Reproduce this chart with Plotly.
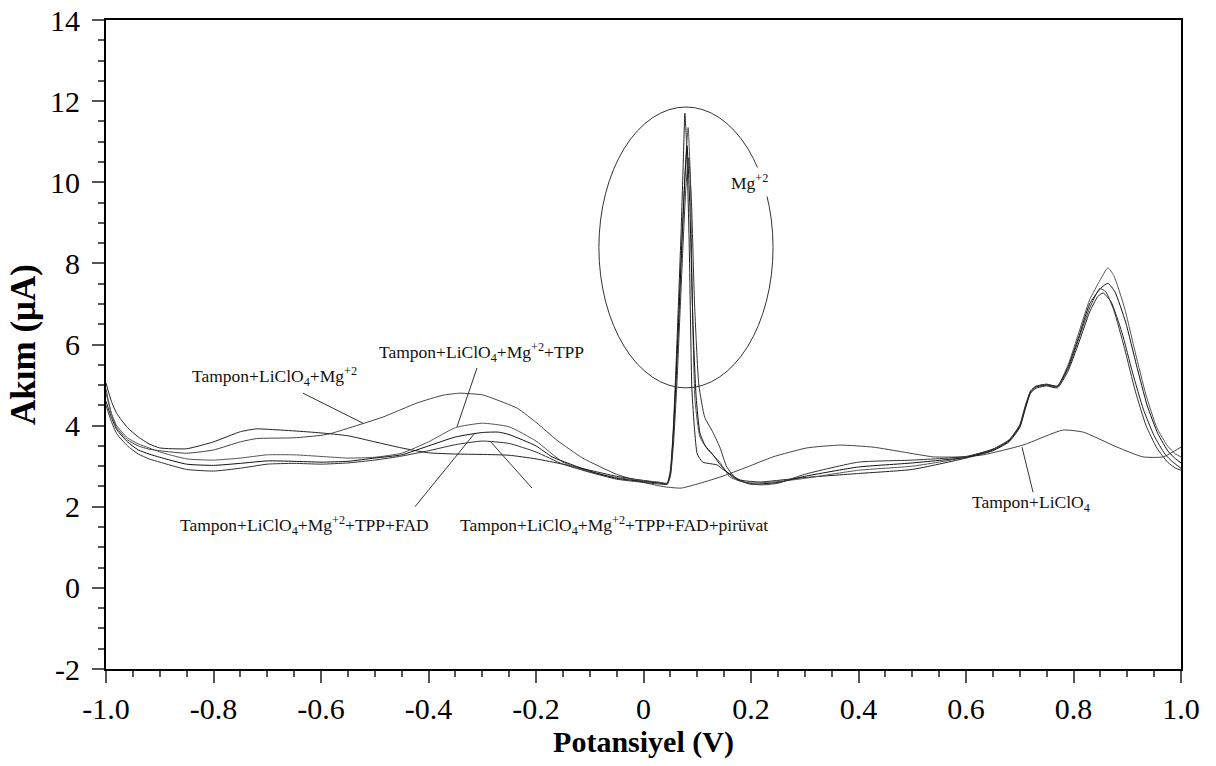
import plotly.graph_objects as go

# ---- Tampon+LiClO4 (no Mg peak) ----
base_x = [-1.0, -0.99, -0.98, -0.96, -0.94, -0.92, -0.9, -0.85, -0.8, -0.75, -0.72, -0.65, -0.6,
          -0.578, -0.546, -0.485, -0.421, -0.373, -0.341, -0.3, -0.286, -0.235, -0.198, -0.161,
          -0.113, -0.05, 0.0, 0.04, 0.07, 0.1, 0.142, 0.193, 0.241, 0.304, 0.366, 0.427, 0.483,
          0.539, 0.595, 0.632, 0.706, 0.78, 0.818, 0.881, 0.929, 0.967, 1.0]
base_y = [4.9, 4.3, 3.95, 3.65, 3.5, 3.42, 3.38, 3.32, 3.4, 3.6, 3.68, 3.7, 3.76,
          3.82, 3.95, 4.21, 4.56, 4.75, 4.8, 4.76, 4.7, 4.43, 4.06, 3.64,
          3.2, 2.8, 2.6, 2.49, 2.46, 2.56, 2.73, 2.98, 3.23, 3.45, 3.52, 3.47, 3.35,
          3.23, 3.23, 3.28, 3.52, 3.89, 3.84, 3.47, 3.23, 3.23, 3.47]

# ---- Tampon+LiClO4+Mg+2 ----
mg_x = [-1.0, -0.99, -0.98, -0.96, -0.94, -0.92, -0.9, -0.85, -0.8, -0.75, -0.72, -0.7, -0.65,
        -0.6, -0.55, -0.5, -0.45, -0.4, -0.35, -0.3, -0.25, -0.2, -0.15, -0.1, -0.05, 0.0, 0.03,
        0.044, 0.05, 0.055, 0.06, 0.065, 0.07, 0.074, 0.077, 0.08, 0.085, 0.09, 0.095, 0.1, 0.11,
        0.12, 0.137, 0.15, 0.18, 0.217, 0.25, 0.3, 0.4, 0.5, 0.6, 0.65, 0.68, 0.7, 0.71, 0.72,
        0.73, 0.75, 0.77, 0.79, 0.81, 0.83, 0.845, 0.855, 0.87, 0.89, 0.91, 0.93, 0.95, 0.97,
        0.985, 1.0]
mg_y = [5.05, 4.6, 4.3, 3.95, 3.72, 3.55, 3.45, 3.43, 3.6, 3.85, 3.92, 3.91, 3.87,
        3.82, 3.75, 3.6, 3.45, 3.33, 3.3, 3.29, 3.27, 3.18, 3.05, 2.9, 2.75, 2.65, 2.6,
        2.58, 2.9, 3.8, 5.3, 7.0, 8.8, 10.5, 11.7, 11.0, 8.5, 4.9, 3.9, 3.3, 3.1,
        3.07, 3.03, 2.9, 2.66, 2.61, 2.65, 2.72, 2.82, 2.92, 3.2, 3.38, 3.6, 3.95, 4.4, 4.8,
        4.92, 4.98, 4.93, 5.35, 6.05, 6.8, 7.18, 7.27, 7.05, 6.3, 5.3, 4.4, 3.75, 3.3,
        3.1, 2.95]

# ---- Tampon+LiClO4+Mg+2+TPP ----
tpp_x = [-1.0, -0.99, -0.98, -0.96, -0.94, -0.92, -0.9, -0.85, -0.8, -0.75, -0.7, -0.65, -0.6,
         -0.55, -0.5, -0.45, -0.4, -0.35, -0.3, -0.25, -0.2, -0.15, -0.1, -0.05, 0.0, 0.03,
         0.044, 0.05, 0.056, 0.062, 0.068, 0.073, 0.078, 0.083, 0.087, 0.091, 0.096, 0.105,
         0.12, 0.142, 0.161, 0.193, 0.25, 0.3, 0.4, 0.5, 0.6, 0.65, 0.68, 0.7, 0.71, 0.72, 0.73,
         0.75, 0.77, 0.79, 0.81, 0.83, 0.85, 0.864, 0.875, 0.895, 0.915, 0.935, 0.955, 0.975,
         0.99, 1.0]
tpp_y = [4.8, 4.3, 4.0, 3.7, 3.55, 3.45, 3.35, 3.18, 3.15, 3.2, 3.28, 3.28, 3.24,
         3.2, 3.22, 3.32, 3.6, 3.95, 4.06, 3.97, 3.62, 3.1, 2.86, 2.72, 2.64, 2.6,
         2.57, 2.85, 3.9, 5.5, 7.4, 9.0, 10.4, 11.35, 10.2, 7.0, 4.6, 3.72,
         3.4, 3.1, 2.73, 2.59, 2.62, 2.7, 2.9, 3.0, 3.22, 3.42, 3.65, 4.0, 4.45, 4.85, 4.97,
         5.02, 4.98, 5.5, 6.3, 7.1, 7.6, 7.89, 7.7, 6.9, 5.8, 4.75, 3.95, 3.5,
         3.3, 3.23]

# ---- Tampon+LiClO4+Mg+2+TPP+FAD ----
fad_x = [-1.0, -0.99, -0.98, -0.96, -0.94, -0.92, -0.9, -0.85, -0.8, -0.75, -0.7, -0.65, -0.6,
         -0.55, -0.5, -0.45, -0.4, -0.35, -0.3, -0.27, -0.25, -0.2, -0.17, -0.1, -0.05, 0.0,
         0.03, 0.044, 0.05, 0.055, 0.06, 0.066, 0.072, 0.077, 0.081, 0.086, 0.092, 0.098, 0.105,
         0.115, 0.127, 0.142, 0.165, 0.198, 0.25, 0.3, 0.4, 0.5, 0.6, 0.65, 0.68, 0.7, 0.71,
         0.72, 0.73, 0.75, 0.77, 0.79, 0.81, 0.83, 0.85, 0.864, 0.877, 0.897, 0.917, 0.937,
         0.957, 0.977, 0.99, 1.0]
fad_y = [4.6, 4.2, 3.9, 3.6, 3.4, 3.3, 3.22, 3.05, 3.02, 3.07, 3.13, 3.12, 3.1,
         3.12, 3.2, 3.28, 3.5, 3.72, 3.83, 3.84, 3.78, 3.5, 3.23, 2.88, 2.7, 2.62,
         2.58, 2.56, 2.8, 3.7, 5.0, 6.8, 8.7, 10.1, 10.9, 9.5, 6.5, 4.7, 3.82,
         3.5, 3.32, 3.05, 2.74, 2.56, 2.6, 2.75, 2.98, 3.08, 3.22, 3.4, 3.62, 3.98, 4.42,
         4.82, 4.95, 5.0, 4.96, 5.45, 6.2, 7.0, 7.38, 7.51, 7.3, 6.55, 5.5, 4.5,
         3.8, 3.35, 3.18, 3.08]

# ---- Tampon+LiClO4+Mg+2+TPP+FAD+pirüvat ----
pir_x = [-1.0, -0.99, -0.98, -0.96, -0.94, -0.92, -0.9, -0.85, -0.8, -0.75, -0.7, -0.65, -0.6,
         -0.55, -0.5, -0.45, -0.4, -0.35, -0.3, -0.25, -0.2, -0.15, -0.1, -0.05, 0.0, 0.03,
         0.044, 0.05, 0.056, 0.062, 0.068, 0.074, 0.079, 0.084, 0.089, 0.095, 0.103, 0.114,
         0.127, 0.142, 0.155, 0.175, 0.217, 0.25, 0.3, 0.4, 0.5, 0.6, 0.65, 0.68, 0.7, 0.71,
         0.72, 0.73, 0.75, 0.77, 0.79, 0.81, 0.83, 0.849, 0.86, 0.875, 0.895, 0.915, 0.935,
         0.955, 0.975, 0.99, 1.0]
pir_y = [4.5, 4.1, 3.8, 3.5, 3.3, 3.18, 3.1, 2.92, 2.88, 2.95, 3.05, 3.07, 3.05,
         3.08, 3.15, 3.25, 3.38, 3.53, 3.62, 3.56, 3.35, 3.05, 2.85, 2.68, 2.6, 2.56,
         2.55, 2.75, 3.6, 5.0, 6.8, 8.6, 9.9, 10.6, 9.6, 7.0, 5.0, 4.2,
         3.89, 3.47, 2.98, 2.66, 2.54, 2.58, 2.8, 3.1, 3.15, 3.24, 3.42, 3.64, 4.02, 4.48,
         4.85, 4.97, 5.02, 4.97, 5.4, 6.15, 6.9, 7.38, 7.3, 6.85, 5.9, 4.85, 4.0,
         3.45, 3.1, 2.95, 2.9]

x_ticks = [-1.0, -0.8, -0.6, -0.4, -0.2, 0.0, 0.2, 0.4, 0.6, 0.8, 1.0]
x_tick_text = ["-1.0", "-0.8", "-0.6", "-0.4", "-0.2", "0", "0.2", "0.4", "0.6", "0.8", "1.0"]
y_ticks = [-2, 0, 2, 4, 6, 8, 10, 12, 14]
y_tick_text = ["-2", "0", "2", "4", "6", "8", "10", "12", "14"]

SERIF = "Liberation Serif, Times New Roman, serif"
LABEL_SIZE = 17.5

fig = go.Figure()
series = [
    (base_x, base_y, "#444444"),
    (mg_x, mg_y, "#222222"),
    (tpp_x, tpp_y, "#555555"),
    (fad_x, fad_y, "#111111"),
    (pir_x, pir_y, "#333333"),
]
for xs, ys, col in series:
    fig.add_trace(go.Scatter(x=xs, y=ys, mode="lines",
                             line=dict(color=col, width=1, shape="spline", smoothing=0.5),
                             showlegend=False, hoverinfo="skip"))

# ellipse around the Mg peaks
fig.add_shape(type="circle", xref="x", yref="y", x0=-0.083, x1=0.241, y0=4.93, y1=11.855,
              line=dict(color="#333333", width=1))

# leader lines from labels to curves
leaders = [
    (-0.6335, 4.80, -0.5219, 4.06),
    (-0.3098, 5.42, -0.347, 3.97),
    (-0.4251, 2.00, -0.3135, 3.82),
    (-0.2074, 2.46, -0.2856, 3.62),
    (0.7247, 2.36, 0.7042, 3.47),
]
for x0, y0, x1, y1 in leaders:
    fig.add_shape(type="line", xref="x", yref="y", x0=x0, y0=y0, x1=x1, y1=y1,
                  line=dict(color="#333333", width=1))

labels = [
    (-0.8437, 5.22, "Tampon+LiClO<sub>4</sub>+Mg<sup>+2</sup>"),
    (-0.4958, 5.81, "Tampon+LiClO<sub>4</sub>+Mg<sup>+2</sup>+TPP"),
    (-0.866, 1.55, "Tampon+LiClO<sub>4</sub>+Mg<sup>+2</sup>+TPP+FAD"),
    (-0.3451, 1.55, "Tampon+LiClO<sub>4</sub>+Mg<sup>+2</sup>+TPP+FAD+pirüvat"),
    (0.6074, 2.09, "Tampon+LiClO<sub>4</sub>"),
]
for lx, ly, txt in labels:
    fig.add_annotation(x=lx, y=ly, xref="x", yref="y", text=txt, showarrow=False,
                       xanchor="left", yanchor="middle",
                       font=dict(family=SERIF, size=LABEL_SIZE, color="#111111"))

fig.add_annotation(x=0.1553, y=10.0, xref="x", yref="y", text="Mg<sup>+2</sup>",
                   showarrow=False, xanchor="left", yanchor="middle", bgcolor="white",
                   borderpad=3, font=dict(family=SERIF, size=LABEL_SIZE, color="#111111"))

axis_common = dict(showgrid=False, zeroline=False, showline=True, linecolor="black",
                   linewidth=2, mirror=True, ticks="outside", ticklen=12, tickwidth=1.5,
                   tickcolor="#555555", tickfont=dict(family=SERIF, size=30, color="black"))

fig.update_xaxes(range=[-1, 1], tickvals=x_ticks, ticktext=x_tick_text,
                 minor=dict(ticks="outside", ticklen=6, dtick=0.05, tickcolor="#555555",
                            tickwidth=1.5, showgrid=False),
                 title=dict(text="<b>Potansiyel (V)</b>", standoff=6,
                            font=dict(family=SERIF, size=30, color="black")),
                 **axis_common)
fig.update_yaxes(range=[-2, 14], tickvals=y_ticks, ticktext=y_tick_text,
                 ticklabelstandoff=6,
                 minor=dict(ticks="outside", ticklen=6, dtick=0.5, tickcolor="#555555",
                            tickwidth=1.5, showgrid=False),
                 title=dict(text="<b>Akım (μA)</b>", standoff=4,
                            font=dict(family=SERIF, size=35, color="black")),
                 **axis_common)

fig.update_layout(width=1216, height=766, paper_bgcolor="white", plot_bgcolor="white",
                  margin=dict(l=106, r=35, t=20, b=97, autoexpand=False))

fig.write_html("out.html")
